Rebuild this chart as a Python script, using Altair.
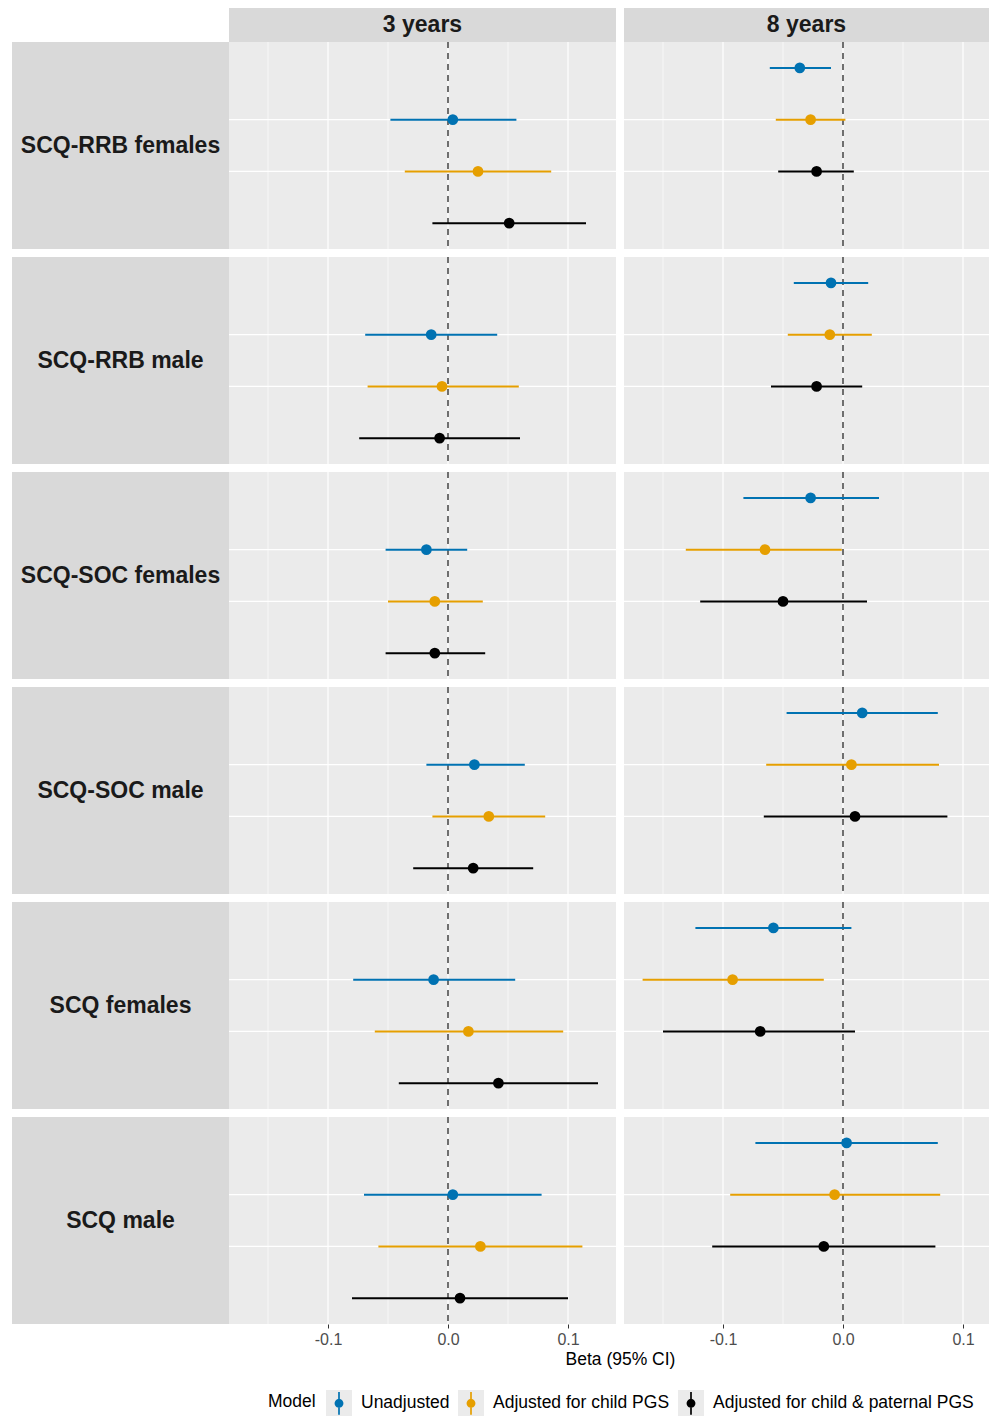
import math
import altair as alt
import pandas as pd

# ---------------- data ----------------
outcomes = ["SCQ-RRB females", "SCQ-RRB male", "SCQ-SOC females",
            "SCQ-SOC male", "SCQ females", "SCQ male"]
ages = ["3 years", "8 years"]
models = ["Unadjusted", "Adjusted for child PGS", "Adjusted for child & paternal PGS"]
model_colors = ["#0072B2", "#E69F00", "#000000"]

# one inner list per outcome: [Unadjusted, child PGS, child & paternal PGS]
est_3y = [[0.004, 0.025, 0.051], [-0.014, -0.005, -0.007], [-0.018, -0.011, -0.011],
          [0.022, 0.034, 0.021], [-0.012, 0.017, 0.042], [0.004, 0.027, 0.010]]
lo_3y = [[-0.048, -0.036, -0.013], [-0.069, -0.067, -0.074], [-0.052, -0.050, -0.052],
         [-0.018, -0.013, -0.029], [-0.079, -0.061, -0.041], [-0.070, -0.058, -0.080]]
hi_3y = [[0.057, 0.086, 0.115], [0.041, 0.059, 0.060], [0.016, 0.029, 0.031],
         [0.064, 0.081, 0.071], [0.056, 0.096, 0.125], [0.078, 0.112, 0.100]]

est_8y = [[-0.036, -0.027, -0.022], [-0.010, -0.011, -0.022], [-0.027, -0.065, -0.050],
          [0.016, 0.007, 0.010], [-0.058, -0.092, -0.069], [0.003, -0.007, -0.016]]
lo_8y = [[-0.061, -0.056, -0.054], [-0.041, -0.046, -0.060], [-0.083, -0.131, -0.119],
         [-0.047, -0.064, -0.066], [-0.123, -0.167, -0.150], [-0.073, -0.094, -0.109]]
hi_8y = [[-0.010, 0.002, 0.009], [0.021, 0.024, 0.016], [0.030, -0.001, 0.020],
         [0.079, 0.080, 0.087], [0.007, -0.016, 0.010], [0.079, 0.081, 0.077]]

# vertical slot (1 = top) of each model inside a panel
slot_3y = [2, 3, 4]
slot_8y = [1, 2, 3]

major_breaks = [-0.1, 0.0, 0.1]
minor_breaks = [-0.15, -0.05, 0.05]
y_grid = [2, 3]

rows = []
for age, est, lo, hi, slots in [("3 years", est_3y, lo_3y, hi_3y, slot_3y),
                                ("8 years", est_8y, lo_8y, hi_8y, slot_8y)]:
    for i, oc in enumerate(outcomes):
        for j, m in enumerate(models):
            rows.append(dict(outcome=oc, age=age, model=m, key_bg=f"{j + 1} {m}",
                             hex=model_colors[j],
                             est=est[i][j], lo=lo[i][j], hi=hi[i][j], slot=slots[j]))
df = pd.DataFrame(rows)

# ---------------- layout / style ----------------
FONT = "Liberation Sans"
STRIP_W = 217
STRIP_H = 34
PANEL_H = 207
PANEL_W = {"3 years": 387, "8 years": 365}
PX_PER_UNIT = 1200.0
X_MIN = -0.1825
PANEL_BG = "#EBEBEB"
STRIP_BG = "#D9D9D9"


def f3(v):
    return f"{v:.3f}"


# legend key glyph (pointrange): thin vertical bar + dot, as a unit-square path
_bar = "M-0.065,-0.87L0.065,-0.87L0.065,0.87L-0.065,0.87Z"
_dot_pts = [(0.34 * math.cos(2 * math.pi * k / 24), 0.34 * math.sin(2 * math.pi * k / 24))
            for k in range(24)]
_dot = "M" + "L".join(f"{f3(x)},{f3(y)}" for x, y in _dot_pts) + "Z"
glyph = _bar + _dot

legend_common = dict(
    orient="none", legendX=256, legendY=1382, direction="horizontal", columns=3,
    title="Model", titleOrient="left", titleAnchor="middle", titleBaseline="middle",
    titleFont=FONT, titleFontSize=17.5, titleFontWeight="normal", titlePadding=10,
    labelFont=FONT, labelFontSize=17.5, labelOffset=9, columnPadding=8, labelLimit=0,
    symbolSize=676, padding=0,
)

color_scale = alt.Scale(domain=models, range=model_colors)
color_enc = alt.Color(
    "model:N", scale=color_scale,
    legend=alt.Legend(**legend_common, symbolType=glyph, symbolStrokeWidth=0,
                      titleColor="black", labelColor="black", zindex=2),
)
# grey key squares behind the legend glyphs (same layout, invisible texts)
bg_shape_enc = alt.Shape(
    "key_bg:N", scale=alt.Scale(range=["square", "square", "square"]),
    legend=alt.Legend(**legend_common, symbolStrokeWidth=0, symbolOpacity=1,
                      labelExpr="substring(datum.label, 2)",
                      symbolFillColor=PANEL_BG, titleOpacity=0, labelOpacity=0, zindex=1),
)

neg_label = "datum.value < 0 ? '-' + format(-datum.value, '.1f') : format(datum.value, '.1f')"


def panel(outcome, age, bottom, with_bg_legend):
    w = PANEL_W[age]
    d = df[(df.outcome == outcome) & (df.age == age)]
    xscale = alt.Scale(domain=[X_MIN, X_MIN + w / PX_PER_UNIT], nice=False, zero=False)
    yscale = alt.Scale(domain=[0.5, 4.5], reverse=True, nice=False, zero=False)
    if bottom:
        xaxis = alt.Axis(
            values=major_breaks, labelExpr=neg_label, grid=False, domain=False,
            ticks=True, tickSize=4, tickWidth=1, tickColor="#333333",
            labelFont=FONT, labelFontSize=16, labelColor="#4D4D4D", labelPadding=3,
            title="Beta (95% CI)" if age == "3 years" else "",
            titleFont=FONT, titleFontSize=17.5, titleFontWeight="normal",
            titleColor="black", titlePadding=3, titleX=391,
        )
    else:
        xaxis = None

    def X(field):
        return alt.X(field, scale=xscale, axis=xaxis)

    Y = alt.Y("slot:Q", scale=yscale, axis=None)

    minor = alt.Chart(pd.DataFrame({"v": minor_breaks})).mark_rule(
        color="white", strokeWidth=0.6, clip=True).encode(x=X("v:Q"))
    major = alt.Chart(pd.DataFrame({"v": major_breaks})).mark_rule(
        color="white", strokeWidth=1.2, clip=True).encode(x=X("v:Q"))
    hgrid = alt.Chart(pd.DataFrame({"slot": y_grid})).mark_rule(
        color="white", strokeWidth=1.2, clip=True).encode(y=Y)
    zero = alt.Chart(pd.DataFrame({"v": [0.0]})).mark_rule(
        color="black", strokeWidth=1.1, strokeDash=[6, 5], clip=True).encode(x=X("v:Q"))
    base = alt.Chart(d)
    ci = base.mark_rule(strokeWidth=2, clip=True).encode(
        x=X("lo:Q"), x2="hi:Q", y=Y,
        stroke=alt.Stroke("hex:N", scale=None))
    pts = base.mark_point(filled=True, size=115, opacity=1, clip=True).encode(
        x=X("est:Q"), y=Y, color=color_enc)
    layers = [minor, major, hgrid, zero, ci, pts]
    if with_bg_legend:
        ghost = base.mark_point(filled=True, color=PANEL_BG, opacity=0, clip=True).encode(
            x=X("est:Q"), y=Y, shape=bg_shape_enc)
        layers.append(ghost)
    return alt.layer(*layers).properties(
        width=w, height=PANEL_H, view=alt.ViewBackground(fill=PANEL_BG, stroke=None))


def strip(text, w, h):
    return alt.Chart(pd.DataFrame({"t": [text]})).mark_text(
        font=FONT, fontSize=23, fontWeight="bold", color="#1A1A1A",
        align="center", baseline="middle").encode(
        text="t:N", x=alt.value(w / 2), y=alt.value(h / 2)).properties(
        width=w, height=h, view=alt.ViewBackground(fill=STRIP_BG, stroke=None))


spacer = alt.Chart(pd.DataFrame({"t": [""]})).mark_text(
    align="left", baseline="top", fontSize=1).encode(
    text="t:N", x=alt.value(0), y=alt.value(0)).properties(width=STRIP_W, height=STRIP_H)

top = alt.hconcat(
    spacer,
    alt.hconcat(strip(ages[0], PANEL_W[ages[0]], STRIP_H),
                strip(ages[1], PANEL_W[ages[1]], STRIP_H), spacing=8, bounds="flush"),
    spacing=0)

row_charts = []
for i, oc in enumerate(outcomes):
    bottom = i == len(outcomes) - 1
    row = alt.hconcat(
        strip(oc, STRIP_W, PANEL_H),
        alt.hconcat(panel(oc, ages[0], bottom, i == 0),
                    panel(oc, ages[1], bottom, False), spacing=8, bounds="flush"),
        spacing=0)
    row_charts.append(row)

body = alt.vconcat(*row_charts, spacing=8)

chart = alt.vconcat(top, body, spacing=0).properties(
    padding={"left": 4, "top": 0, "right": 0, "bottom": 0}
).configure(font=FONT).configure_view(stroke=None)

chart.save("out.html", embed_options={"renderer": "svg", "actions": False})
